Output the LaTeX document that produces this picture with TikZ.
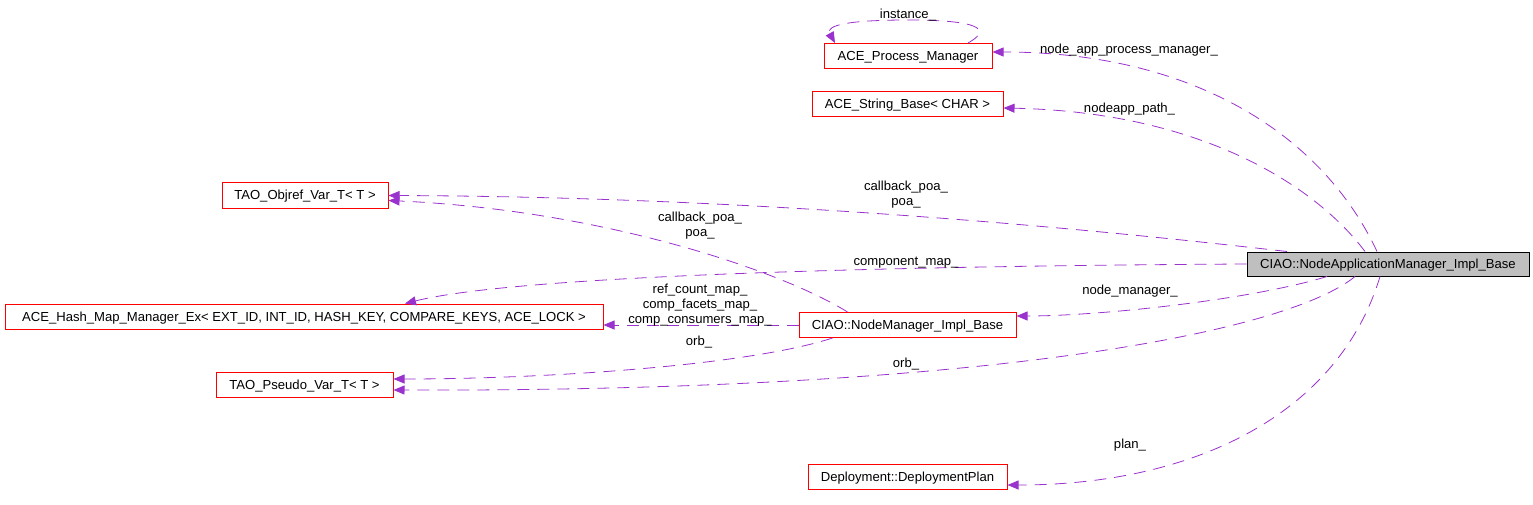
\documentclass[tikz,border=0pt]{standalone}
\usepackage{fontspec}
\setmainfont{Liberation Sans}
\usetikzlibrary{arrows.meta}
\definecolor{edgepurple}{HTML}{9A32CD}
\definecolor{boxgray}{HTML}{BFBFBF}

\begin{document}
\begin{tikzpicture}[x=1pt,y=-1pt,
    every node/.style={font=\fontsize{13.1}{15}\selectfont},
    cls/.style={draw=red, line width=1pt, minimum height=25pt, inner sep=0pt,
      text height=10pt, text depth=1pt},
    dep/.style={draw=edgepurple, line width=0.8pt, dash pattern=on 12pt off 8pt,
      -{Triangle[length=11pt,width=9pt]}},
    lbl/.style={align=center, inner sep=0pt}]
  \useasboundingbox[fill=white] (0,0) rectangle (1533,505);

  % classes
  \node[cls, draw=black, fill=boxgray, minimum height=24pt, minimum width=282pt]
    (nam) at (1388,264) {CIAO::NodeApplicationManager\_Impl\_Base};
  \node[cls, minimum width=168pt] (apm) at (908,56) {ACE\_Process\_Manager};
  \node[cls, minimum width=191pt] (asb) at (907.5,104.5) {ACE\_String\_Base< CHAR >};
  \node[cls, minimum width=166pt] (tov) at (305,195.5) {TAO\_Objref\_Var\_T< T >};
  \node[cls, minimum width=598pt] (hmm) at (304,316.5) {ACE\_Hash\_Map\_Manager\_Ex< EXT\_ID, INT\_ID, HASH\_KEY, COMPARE\_KEYS, ACE\_LOCK >};
  \node[cls, minimum width=217pt] (nmb) at (907.5,325) {CIAO::NodeManager\_Impl\_Base};
  \node[cls, minimum width=177pt] (tpv) at (304.5,384.5) {TAO\_Pseudo\_Var\_T< T >};
  \node[cls, minimum width=199pt] (dpl) at (907.5,476.5) {Deployment::DeploymentPlan};

  % members of NodeApplicationManager_Impl_Base
  \draw[dep] ([xshift=-11pt]nam.north) .. controls (1325,140) and (1200,52) .. ([yshift=4pt]apm.east);
  \draw[dep] ([xshift=-23pt]nam.north) .. controls (1315,185) and (1200,112) .. ([yshift=-3.5pt]asb.east);
  \draw[dep] ([xshift=-101pt]nam.north) .. controls (1150,236) and (800,197) .. (tov.east);
  \draw[dep] (nam.west) .. controls (900,266) and (520,275) .. ([xshift=101pt]hmm.north);
  \draw[dep] ([xshift=-61pt]nam.south) .. controls (1250,300) and (1100,316) .. ([yshift=9pt]nmb.east);
  \draw[dep] ([xshift=-33pt]nam.south) .. controls (1290,330) and (1000,392) .. ([yshift=-5.5pt]tpv.east);
  \draw[dep] ([xshift=-8pt]nam.south) .. controls (1340,410) and (1200,485) .. ([yshift=-8.5pt]dpl.east);

  % members of NodeManager_Impl_Base
  \draw[dep] ([xshift=-60pt]nmb.north) .. controls (780,270) and (600,210) .. ([yshift=-5pt]tov.east);
  \draw[dep] (nmb.west) -- (nmb.west -| hmm.east);
  \draw[dep] ([xshift=-75pt]nmb.south) .. controls (750,365) and (550,379) .. ([yshift=5.5pt]tpv.east);

  % self reference
  \draw[dep] ([xshift=60pt]apm.north) .. controls (1000,25) and (960,20) .. (908,20)
    .. controls (850,20) and (825,25) .. ([xshift=-73pt]apm.north);

  % labels
  \node[lbl] (l-inst) at (908,15) {instance\_};
  \node[lbl] (l-napm) at (1129,50) {node\_app\_process\_manager\_};
  \node[lbl] (l-path) at (1129.5,109) {nodeapp\_path\_};
  \node[lbl] (l-poa) at (906,194.5) {callback\_poa\_\\poa\_};
  \node[lbl] (l-cmap) at (906,263) {component\_map\_};
  \node[lbl] (l-nmgr) at (1130,291) {node\_manager\_};
  \node[lbl] (l-orb) at (906,364) {orb\_};
  \node[lbl] (l-plan) at (1130,445) {plan\_};
  \node[lbl] (l-nmpoa) at (700,225.5) {callback\_poa\_\\poa\_};
  \node[lbl] (l-maps) at (700,305) {ref\_count\_map\_\\comp\_facets\_map\_\\comp\_consumers\_map\_};
  \node[lbl] (l-nmorb) at (699,342) {orb\_};
\end{tikzpicture}
\end{document}
